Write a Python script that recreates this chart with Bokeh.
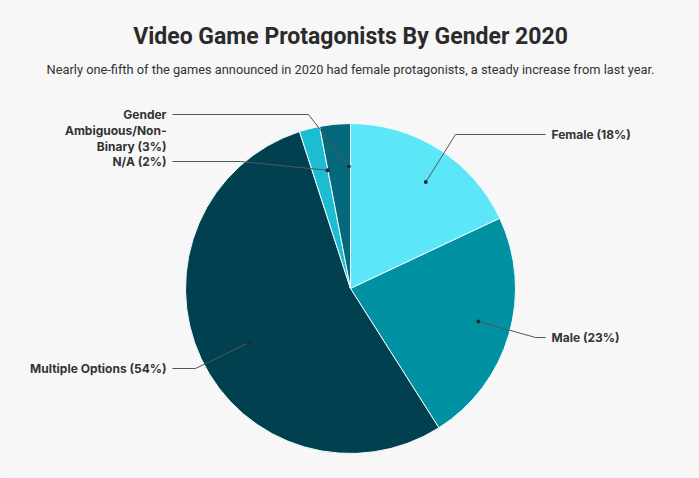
import math
from bokeh.plotting import figure
from bokeh.models import Range1d, ColumnDataSource
from bokeh.core.properties import value
from bokeh.embed import file_html
from bokeh.resources import INLINE

# ---- data ----
categories = ["Female", "Male", "Multiple Options", "N/A", "Gender Ambiguous/Non-Binary"]
shares = [18, 23, 54, 2, 3]
label_lines = [["Female (18%)"], ["Male (23%)"], ["Multiple Options (54%)"], ["N/A (2%)"],
               ["Gender", "Ambiguous/Non-", "Binary (3%)"]]
title_text = "Video Game Protagonists By Gender 2020"
subtitle_text = ("Nearly one-fifth of the games announced in 2020 had female protagonists, "
                 "a steady increase from last year.")

# ---- style ----
colors = ["#5ce7f8", "#0092a3", "#01414f", "#1cbdd2", "#04697a"]
W, H = 699, 478
BG = "#f7f7f7"
TXT = "#333333"

def X(xs):
    return xs

def Y(ys):
    return H - ys

cx, cy, R = X(350), Y(288), 165

# label layout (screen px): anchor x, first-line y, bend x, align
label_x = [551, 551, 166, 166, 166]
label_y = [134, 337, 368, 161, 114]
bend_x = [455, 535, 195, 240, 308]
aligns = ["left", "left", "right", "right", "right"]
dot_r_frac = [0.79, 0.80, 0.70, 0.73, 0.74]
dot_ang_shift = [-0.05, 0.03, 0.05, -0.06, -0.08]
line_h = 16

total = float(sum(shares))
starts, ends, mids = [], [], []
acc = 0.0
for s in shares:
    a0 = math.pi / 2 - 2 * math.pi * acc / total
    acc += s
    a1 = math.pi / 2 - 2 * math.pi * acc / total
    starts.append(a0)
    ends.append(a1)
    mids.append((a0 + a1) / 2)

p = figure(width=W, height=H, output_backend="svg", toolbar_location=None,
           x_range=Range1d(0, W), y_range=Range1d(0, H), min_border=0,
           background_fill_color=BG, border_fill_color=BG, outline_line_color=None)
p.axis.visible = False
p.grid.visible = False

src = ColumnDataSource(dict(start=starts, end=ends, color=colors, cat=categories))
p.wedge(x=cx, y=cy, radius=R, start_angle="start", end_angle="end",
        direction="clock", fill_color="color", line_color="#f2fbfd", line_width=1,
        source=src)

# connectors
dot_x, dot_y = [], []
for i in range(len(shares)):
    a = mids[i] + dot_ang_shift[i]
    dx = cx + dot_r_frac[i] * R * math.cos(a)
    dy = cy + dot_r_frac[i] * R * math.sin(a)
    dot_x.append(dx)
    dot_y.append(dy)
    end_x = label_x[i] - 6 if aligns[i] == "left" else label_x[i] + 6
    xs = [dx, X(bend_x[i]), X(end_x)]
    ys = [dy, Y(label_y[i]), Y(label_y[i])]
    p.line(xs, ys, line_color="#555555", line_width=1)
p.scatter(dot_x, dot_y, size=4, fill_color="#1d2b33", line_color=None)

# labels
for i in range(len(shares)):
    for k, t in enumerate(label_lines[i]):
        p.text(x=[X(label_x[i])], y=[Y(label_y[i] + k * line_h)], text=[t],
               text_align=aligns[i], text_baseline="middle",
               text_font=value("Inter"), text_font_style="bold",
               text_font_size="12px", text_color=TXT)

# title & subtitle
p.text(x=[X(350)], y=[Y(36)], text=[title_text], text_align="center",
       text_baseline="middle", text_font=value("Roboto"),
       text_font_style="bold", text_font_size="23px", text_color="#2b2b2b")
p.text(x=[X(350)], y=[Y(69)], text=[subtitle_text], text_align="center",
       text_baseline="middle", text_font=value("Roboto"),
       text_font_size="12.8px", text_color=TXT)

open("out.html", "w").write(file_html(p, INLINE))
